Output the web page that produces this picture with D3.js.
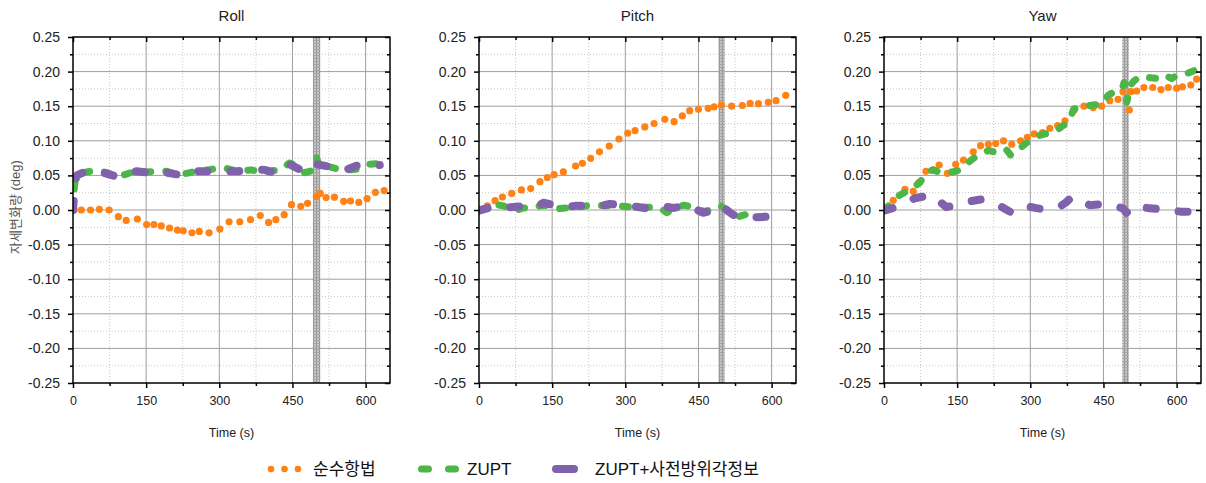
<!DOCTYPE html>
<html>
<head>
<meta charset="utf-8">
<script src="https://cdn.jsdelivr.net/npm/d3@7"></script>
<style>
  body { margin: 0; background: #fff; }
  text { font-family: "Liberation Sans", Arial, "Noto Sans CJK KR", sans-serif; }
</style>
</head>
<body>
<div id="chart"></div>
<script>
// attitude change (deg) over time, three panels

const panelNames = ["Roll", "Pitch", "Yaw"];
const seriesNames = ["순수항법", "ZUPT", "ZUPT+사전방위각정보"];
const xMajor = [0, 150, 300, 450, 600];
const xMinor = [75, 225, 375, 525];
const yMajor = [-0.25, -0.20, -0.15, -0.10, -0.05, 0, 0.05, 0.10, 0.15, 0.20, 0.25];
const yMinor = [-0.225, -0.175, -0.125, -0.075, -0.025, 0.025, 0.075, 0.125, 0.175, 0.225];

// stationary interval, seconds
const bandRanges = [[492, 507], [491, 504], [488.5, 502]];

// [time s, deg]
const rollPure = [[2,0.000],[17,0.000],[36,0.000],[54,0.001],[74,0.000],[93,-0.0096],[109,-0.015],[132,-0.013],
  [151,-0.021],[166,-0.021],[181,-0.023],[198,-0.026],[214,-0.029],[226,-0.030],[244,-0.033],[259,-0.031],
  [279,-0.033],[301,-0.0275],[320,-0.017],[342,-0.017],[364,-0.014],[384,-0.008],[401,-0.018],[416,-0.014],
  [433,-0.0067],[448,0.0077],[467,0.0053],[481,0.0096],[499,0.020],[507,0.024],[519,0.018],[536,0.0185],
  [555,0.0125],[569,0.013],[586,0.011],[603,0.0164],[620,0.0255],[638,0.028]];
const rollZupt = [[0,0],[3,0.035],[6,0.047],[15,0.052],[27,0.055],[50,0.057],[70,0.054],[86,0.049],[106,0.051],
  [130,0.057],[150,0.055],[175,0.056],[192,0.056],[215,0.051],[233,0.053],[257,0.057],[280,0.058],[304,0.062],
  [338,0.056],[365,0.058],[393,0.054],[410,0.057],[425,0.057],[444,0.068],[455,0.065],[475,0.054],[495,0.058],
  [500,0.075],[505,0.062],[523,0.063],[553,0.057],[581,0.059],[601,0.066],[629,0.067],[640,0.066]];
const rollHeading = [[0,0],[2,0.02],[4,0.04],[8,0.05],[20,0.054],[48,0.057],[86,0.049],[130,0.056],[175,0.052],
  [192,0.054],[233,0.049],[257,0.056],[300,0.056],[338,0.056],[375,0.059],[393,0.058],[418,0.053],[444,0.066],
  [470,0.057],[490,0.056],[500,0.066],[523,0.063],[553,0.056],[581,0.064],[629,0.065]];

const pitchPure = [[2,0.000],[17,0.006],[33,0.0135],[48,0.0188],[67,0.024],[87,0.029],[106,0.031],[125,0.041],
  [140,0.047],[154,0.051],[173,0.055],[198,0.0636],[212,0.0675],[229,0.0747],[247,0.084],[267,0.0925],
  [287,0.1026],[305,0.111],[320,0.1146],[340,0.120],[359,0.125],[381,0.131],[400,0.1276],[417,0.136],
  [432,0.1435],[450,0.1455],[470,0.147],[482,0.149],[497,0.1517],[518,0.150],[540,0.151],[556,0.154],
  [573,0.1536],[593,0.1556],[609,0.158],[629,0.1657]];
const pitchZupt = [[0,0],[20,0.004],[35,0.008],[50,0.006],[65,0.002],[75,-0.001],[90,0.003],[108,0.002],
  [125,0.006],[145,0.006],[165,0.002],[180,0.003],[200,0.004],[220,0.006],[240,0.007],[260,0.006],[280,0.006],
  [300,0.005],[320,0.004],[345,0.004],[370,0.004],[385,-0.004],[400,0.002],[420,0.007],[440,0.004],
  [460,-0.002],[477,0.000],[495,0.006],[510,0.0],[530,-0.010],[550,-0.006],[575,-0.010],[600,-0.008],[618,-0.005]];
const pitchHeading = [[0,-0.001],[33,0.006],[50,0.004],[65,0.004],[98,0.006],[115,0.004],[132,0.0105],
  [159,0.006],[180,0.004],[197,0.006],[231,0.0063],[250,0.006],[268,0.0087],[310,0.006],[344,0.0024],
  [381,0.0048],[400,0.003],[426,0.0067],[460,-0.004],[478,-0.001],[494,0.007],[521,-0.007],[540,-0.009],
  [562,-0.0106],[597,-0.0096],[615,-0.007]];

const yawPure = [[4,0.004],[19,0.014],[43,0.030],[60,0.027],[72,0.040],[86,0.056],[101,0.058],[113,0.065],
  [130,0.053],[147,0.066],[163,0.072],[183,0.084],[198,0.093],[214,0.095],[229,0.096],[245,0.100],[262,0.095],
  [280,0.100],[294,0.105],[308,0.110],[325,0.112],[340,0.118],[356,0.122],[371,0.129],[390,0.1445],[410,0.150],
  [429,0.148],[446,0.150],[463,0.158],[480,0.160],[490,0.171],[503,0.1445],[506,0.171],[518,0.172],[533,0.177],
  [551,0.177],[568,0.174],[583,0.177],[600,0.176],[612,0.178],[629,0.1806],[641,0.189]];
const yawZupt = [[0,0],[11,0.007],[33,0.022],[53,0.029],[74,0.040],[85,0.053],[100,0.058],[121,0.053],
  [141,0.055],[156,0.058],[167,0.065],[182,0.074],[199,0.081],[214,0.086],[230,0.083],[240,0.085],[250,0.088],
  [260,0.079],[270,0.083],[290,0.096],[303,0.101],[315,0.107],[330,0.110],[351,0.113],[365,0.121],[379,0.127],
  [389,0.146],[410,0.150],[432,0.152],[444,0.152],[460,0.166],[473,0.171],[488,0.174],[492,0.184],[495,0.175],
  [498,0.156],[505,0.180],[512,0.186],[524,0.193],[548,0.191],[566,0.190],[576,0.195],[590,0.190],[604,0.196],
  [620,0.197],[638,0.202]];
const yawHeading = [[0,-0.001],[33,0.006],[48,0.012],[63,0.017],[98,0.022],[113,0.013],[128,0.004],[159,0.0096],
  [180,0.013],[200,0.0154],[228,0.0096],[245,0.003],[262,-0.004],[289,0.006],[310,0.003],[327,0.001],
  [361,0.005],[375,0.012],[385,0.019],[422,0.007],[440,0.008],[460,0.0087],[490,0.0024],[497,-0.004],
  [514,0.007],[530,0.004],[545,0.0024],[569,0.001],[590,-0.001],[610,-0.0024],[640,-0.0024]];

const panelData = [
  [rollPure, rollZupt, rollHeading],
  [pitchPure, pitchZupt, pitchHeading],
  [yawPure, yawZupt, yawHeading]
];

const colors = ["#ff8216", "#4cb748", "#8061ab"];

const W = 1206, H = 483;
const panelLeft = [73, 479, 884];
const plotTop = 37, pw = 317, ph = 346;

const svg = d3.select("#chart").append("svg")
  .attr("width", W).attr("height", H);

const defs = svg.append("defs");
const pat = defs.append("pattern").attr("id", "hatch")
  .attr("width", 3).attr("height", 3).attr("patternUnits", "userSpaceOnUse");
pat.append("rect").attr("width", 3).attr("height", 3).attr("fill", "#bdbdbd");
pat.append("rect").attr("width", 1).attr("height", 3).attr("fill", "#8a8a8a");
pat.append("rect").attr("width", 3).attr("height", 1).attr("fill", "#9a9a9a");

const x = d3.scaleLinear().domain([0, 650]).range([0, pw]);
const y = d3.scaleLinear().domain([-0.25, 0.25]).range([ph, 0]);
const fmt = d => d.toFixed(2);

panelNames.forEach((name, i) => {
  const g = svg.append("g").attr("transform", `translate(${panelLeft[i]},${plotTop})`);

  defs.append("clipPath").attr("id", "clip" + i)
    .append("rect").attr("width", pw).attr("height", ph);

  // grid
  g.append("g").selectAll("line").data(xMinor).join("line")
    .attr("x1", d => x(d)).attr("x2", d => x(d)).attr("y1", 0).attr("y2", ph)
    .attr("stroke", "#c8c8c8").attr("stroke-dasharray", "1 2");
  g.append("g").selectAll("line").data(yMinor).join("line")
    .attr("y1", d => y(d)).attr("y2", d => y(d)).attr("x1", 0).attr("x2", pw)
    .attr("stroke", "#c8c8c8").attr("stroke-dasharray", "1 2");
  g.append("g").selectAll("line").data(xMajor.slice(1)).join("line")
    .attr("x1", d => x(d)).attr("x2", d => x(d)).attr("y1", 0).attr("y2", ph)
    .attr("stroke", "#9e9e9e");
  g.append("g").selectAll("line").data(yMajor.slice(1, -1)).join("line")
    .attr("y1", d => y(d)).attr("y2", d => y(d)).attr("x1", 0).attr("x2", pw)
    .attr("stroke", "#9e9e9e");

  // band
  const b = bandRanges[i];
  g.append("rect")
    .attr("x", x(b[0])).attr("width", x(b[1]) - x(b[0]))
    .attr("y", 0).attr("height", ph)
    .attr("fill", "url(#hatch)").attr("opacity", 0.9);

  const plot = g.append("g").attr("clip-path", `url(#clip${i})`);
  const line = d3.line().x(d => x(d[0])).y(d => y(d[1]));
  const [pure, zupt, heading] = panelData[i];

  plot.selectAll(".pure").data(pure).join("circle")
    .attr("class", "pure")
    .attr("cx", d => x(d[0])).attr("cy", d => y(d[1])).attr("r", 3.6)
    .attr("fill", colors[0]);

  plot.append("path").datum(zupt)
    .attr("d", line).attr("fill", "none")
    .attr("stroke", colors[1]).attr("stroke-width", 7)
    .attr("stroke-linecap", "round").attr("stroke-linejoin", "round")
    .attr("stroke-dasharray", "6 15");

  plot.append("path").datum(heading)
    .attr("d", line).attr("fill", "none")
    .attr("stroke", colors[2]).attr("stroke-width", 8)
    .attr("stroke-linecap", "round").attr("stroke-linejoin", "round")
    .attr("stroke-dasharray", "9 23");

  // axes
  const styleAxis = size => sel => {
    sel.select(".domain").remove();
    sel.selectAll("line").attr("stroke", "#000").attr("stroke-width", 1.5);
    sel.selectAll("text").attr("fill", "#222").style("font-size", size + "px")
      .style("font-family", '"Liberation Sans", Arial, sans-serif');
  };

  g.append("g").attr("transform", `translate(0,${ph})`)
    .call(d3.axisBottom(x).tickValues(xMajor).tickSize(5).tickPadding(8).tickFormat(d3.format("d")))
    .call(styleAxis(12.5));
  g.append("g").attr("transform", `translate(0,${ph})`)
    .call(d3.axisBottom(x).tickValues(xMinor).tickSize(3).tickFormat(""))
    .call(styleAxis(12));
  g.append("g")
    .call(d3.axisLeft(y).tickValues(yMajor).tickSize(5).tickPadding(8).tickFormat(fmt))
    .call(styleAxis(14));
  g.append("g")
    .call(d3.axisLeft(y).tickValues(yMinor).tickSize(3).tickFormat(""))
    .call(styleAxis(12));
  g.append("g")
    .call(d3.axisTop(x).tickValues(xMajor).tickSize(-5).tickFormat(""))
    .call(styleAxis(12));
  g.append("g")
    .call(d3.axisTop(x).tickValues(xMinor).tickSize(-3).tickFormat(""))
    .call(styleAxis(12));
  g.append("g").attr("transform", `translate(${pw},0)`)
    .call(d3.axisRight(y).tickValues(yMajor).tickSize(-5).tickFormat(""))
    .call(styleAxis(12));
  g.append("g").attr("transform", `translate(${pw},0)`)
    .call(d3.axisRight(y).tickValues(yMinor).tickSize(-3).tickFormat(""))
    .call(styleAxis(12));

  g.append("rect").attr("width", pw).attr("height", ph)
    .attr("fill", "none").attr("stroke", "#000").attr("stroke-width", 1.5);

  g.append("text").attr("x", pw / 2).attr("y", -16)
    .attr("text-anchor", "middle").style("font-size", "15px").attr("fill", "#222")
    .text(name);

  g.append("text").attr("x", pw / 2).attr("y", ph + 54)
    .attr("text-anchor", "middle").style("font-size", "12.5px").attr("fill", "#222")
    .text("Time (s)");

  if (i === 0) {
    g.append("text")
      .attr("transform", `translate(-53,${ph / 2 - 3}) rotate(-90)`)
      .attr("text-anchor", "middle").style("font-size", "13px").attr("fill", "#555")
      .text("자세변화량 (deg)");
  }
});

// legend
const leg = svg.append("g");
const ly = 469;
leg.selectAll(".ld").data([271, 284.5, 298]).join("circle")
  .attr("cx", d => d).attr("cy", ly).attr("r", 3.3).attr("fill", colors[0]);
leg.append("line").attr("x1", 421.5).attr("x2", 456).attr("y1", ly).attr("y2", ly)
  .attr("stroke", colors[1]).attr("stroke-width", 7).attr("stroke-linecap", "round")
  .attr("stroke-dasharray", "7 20");
leg.append("line").attr("x1", 556).attr("x2", 574).attr("y1", ly).attr("y2", ly)
  .attr("stroke", colors[2]).attr("stroke-width", 8).attr("stroke-linecap", "round");
[[313, seriesNames[0]], [467, seriesNames[1]], [595, seriesNames[2]]].forEach(([lx, t]) => {
  leg.append("text").attr("x", lx).attr("y", ly + 6)
    .style("font-size", "17px").attr("fill", "#111").text(t);
});
</script>
</body>
</html>
